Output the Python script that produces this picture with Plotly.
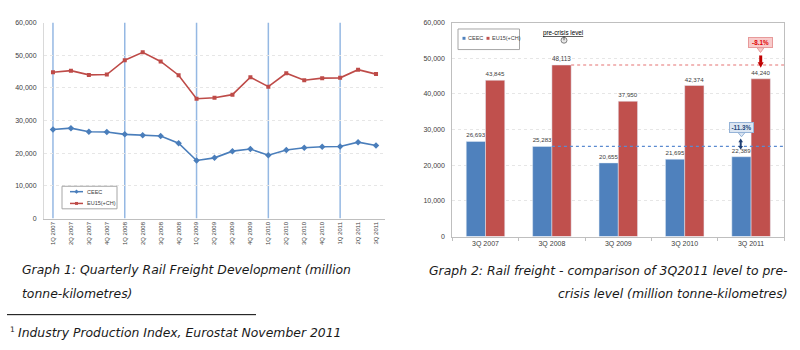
import plotly.graph_objects as go

# ---------------- data ----------------
quarters = ["1Q 2007", "2Q 2007", "3Q 2007", "4Q 2007",
            "1Q 2008", "2Q 2008", "3Q 2008", "4Q 2008",
            "1Q 2009", "2Q 2009", "3Q 2009", "4Q 2009",
            "1Q 2010", "2Q 2010", "3Q 2010", "4Q 2010",
            "1Q 2011", "2Q 2011", "3Q 2011"]
ceec_q = [27300, 27700, 26600, 26500, 25800, 25500, 25283, 23100,
          17800, 18600, 20655, 21300, 19400, 21000, 21695, 22000,
          22100, 23400, 22389]
eu15_q = [44800, 45300, 44000, 44100, 48500, 50900, 48113, 43900,
          36700, 37000, 37950, 43300, 40400, 44500, 42374, 43000,
          43100, 45600, 44240]

years3q = ["3Q 2007", "3Q 2008", "3Q 2009", "3Q 2010", "3Q 2011"]
ceec_3q = [26693, 25283, 20655, 21695, 22389]
eu15_3q = [43845, 48113, 37950, 42374, 44240]
precrisis = "3Q 2008"

series_names = ["CEEC", "EU15(+CH)"]
callout_texts = ["-8.1%", "-11.3%"]

caption1 = ["Graph 1: Quarterly Rail Freight Development (million", "tonne-kilometres)"]
caption2 = ["Graph 2: Rail freight - comparison of 3Q2011 level to pre-",
            "crisis level (million tonne-kilometres)"]
footnote = "Industry Production Index, Eurostat November 2011"

# ---------------- helpers ----------------
W, H = 800, 350
def px(x): return x / W
def py(y): return 1 - y / H

BLUE = "#4F81BD"
RED = "#C0504D"
LBLUE = "#4A7EBB"
LRED = "#BE4B48"
TXT = "#404040"
FONT = "Liberation Sans"

fig = go.Figure()

# ---------------- Graph 1 (lines) ----------------
fig.add_trace(go.Scatter(x=quarters, y=ceec_q, name=series_names[0], mode="lines+markers",
                         line=dict(color=LBLUE, width=1.6),
                         marker=dict(symbol="diamond", size=5, color=LBLUE),
                         xaxis="x", yaxis="y", showlegend=False))
fig.add_trace(go.Scatter(x=quarters, y=eu15_q, name=series_names[1], mode="lines+markers",
                         line=dict(color=LRED, width=1.6),
                         marker=dict(symbol="square", size=4, color=LRED),
                         xaxis="x", yaxis="y", showlegend=False))

# ---------------- Graph 2 (bars) ----------------
fig.add_trace(go.Bar(x=years3q, y=ceec_3q, name=series_names[0], marker_color=BLUE,
                     text=ceec_3q, texttemplate="%{y:,}", textposition="outside",
                     textfont=dict(size=6.5, color=TXT, family=FONT), cliponaxis=False,
                     xaxis="x2", yaxis="y2", showlegend=False))
fig.add_trace(go.Bar(x=years3q, y=eu15_3q, name=series_names[1], marker_color=RED,
                     text=eu15_3q, texttemplate="%{y:,}", textposition="outside",
                     textfont=dict(size=6.5, color=TXT, family=FONT), cliponaxis=False,
                     xaxis="x2", yaxis="y2", showlegend=False))

shapes = []
annotations = []

def ptext(x, y, text, size, color=TXT, family=FONT, xanchor="center", **kw):
    d = dict(x=px(x), y=py(y), xref="paper", yref="paper", text=text, showarrow=False,
             xanchor=xanchor, yanchor="middle", font=dict(size=size, color=color, family=family))
    d.update(kw)
    annotations.append(d)

def ppath(points, fill, line_color=None, lw=0):
    path = "M " + " L ".join(f"{px(a)},{py(b)}" for a, b in points) + " Z"
    shapes.append(dict(type="path", xref="paper", yref="paper", path=path, fillcolor=fill,
                       line=dict(color=line_color or fill, width=lw)))

# vertical year separators at each 1Q
for i, q in enumerate(quarters):
    if q.startswith("1Q"):
        shapes.append(dict(type="line", xref="x", yref="y", x0=i, x1=i, y0=0, y1=60000,
                           line=dict(color="#95B8E3", width=1.5), layer="below"))

# pre-crisis dashed lines
bargap = 0.42
bw = (1 - bargap) / 2
pi = years3q.index(precrisis)
shapes.append(dict(type="line", xref="x2", yref="y2", x0=pi + bw, x1=len(years3q) - 0.5,
                   y0=eu15_3q[pi], y1=eu15_3q[pi], line=dict(color="#E57373", width=1.2, dash="dot")))
shapes.append(dict(type="line", xref="x2", yref="y2", x0=pi, x1=len(years3q) - 0.5,
                   y0=ceec_3q[pi], y1=ceec_3q[pi], line=dict(color="#5B8BD0", width=1.2, dash="dot")))

# ---- manual legend graph 1 ----
shapes.append(dict(type="rect", xref="paper", yref="paper", x0=px(62), x1=px(117), y0=py(209), y1=py(186),
                   line=dict(color="#A6A6A6", width=1), fillcolor="white"))
for k, (yy, col) in enumerate([(191.5, LBLUE), (203.5, LRED)]):
    shapes.append(dict(type="line", xref="paper", yref="paper", x0=px(70), x1=px(83), y0=py(yy), y1=py(yy),
                       line=dict(color=col, width=1.5)))
    if k == 0:
        ppath([(76.5, yy - 2.2), (78.7, yy), (76.5, yy + 2.2), (74.3, yy)], col)
    else:
        ppath([(75, yy - 1.5), (78, yy - 1.5), (78, yy + 1.5), (75, yy + 1.5)], col)
    ptext(84.5, yy, series_names[k], 5.5, xanchor="left")

# ---- manual legend graph 2 ----
shapes.append(dict(type="rect", xref="paper", yref="paper", x0=px(458), x1=px(519.5), y0=py(46.5), y1=py(25.5),
                   line=dict(color="#A6A6A6", width=1), fillcolor="white"))
for k, (xx, col) in enumerate([(462.5, BLUE), (486.5, RED)]):
    shapes.append(dict(type="rect", xref="paper", yref="paper", x0=px(xx), x1=px(xx + 3),
                       y0=py(36.5), y1=py(33.5), fillcolor=col, line=dict(width=0)))
    ptext(xx + 3.5, 35, series_names[k], 5.5, xanchor="left")

# pre-crisis label with small cursor hint
ptext(563, 29.5, "<u>pre-crisis level</u>", 6.3, color="#000000")
shapes.append(dict(type="circle", xref="paper", yref="paper", x0=px(561), x1=px(567), y0=py(40), y1=py(34),
                   line=dict(color="#808080", width=1), fillcolor="#E8E8E8"))
shapes.append(dict(type="line", xref="paper", yref="paper", x0=px(564), x1=px(564), y0=py(33), y1=py(37),
                   line=dict(color="#606060", width=1)))

# ---- callouts ----
# -8.1%
ptext(760.2, 39.7, "<b>" + callout_texts[0] + "</b>", 6.3, color="#E00000",
      bgcolor="#F8CBCB", bordercolor="#E79A9A", borderwidth=1, borderpad=1, width=21)
ppath([(757, 44.6), (764, 44.6), (760.5, 49.5)], "#F8CBCB", "#E79A9A", 1)
shapes.append(dict(type="line", xref="paper", yref="paper", x0=px(760.7), x1=px(760.7), y0=py(52.5), y1=py(60),
                   line=dict(color="#C00000", width=3)))
ppath([(757.7, 59.5), (763.7, 59.5), (760.7, 65)], "#C00000")
# -11.3%
ptext(741.5, 126.3, "<b>" + callout_texts[1] + "</b>", 6.3, color="#1F497D",
      bgcolor="#DCE6F2", bordercolor="#95B3D7", borderwidth=1, borderpad=1, width=21)
ppath([(738, 131.2), (745, 131.2), (741.5, 135.5)], "#DCE6F2", "#95B3D7", 1)
shapes.append(dict(type="line", xref="paper", yref="paper", x0=px(740.7), x1=px(740.7), y0=py(140), y1=py(146),
                   line=dict(color="#1F3F73", width=2)))
ppath([(738.4, 141), (743, 141), (740.7, 137.3)], "#1F3F73")
ppath([(738.4, 145), (743, 145), (740.7, 148.7)], "#1F3F73")

# ---- captions ----
CAPS = 12.4
CAPF = "DejaVu Sans"
ptext(20, 271, "<i>" + caption1[0] + "</i>", CAPS, color="#1A1A1A", family=CAPF, xanchor="left")
ptext(20, 295.5, "<i>" + caption1[1] + "</i>", CAPS, color="#1A1A1A", family=CAPF, xanchor="left")
ptext(790, 271.5, "<i>" + caption2[0] + "</i>", CAPS, color="#1A1A1A", family=CAPF, xanchor="right")
ptext(790, 295.5, "<i>" + caption2[1] + "</i>", CAPS, color="#1A1A1A", family=CAPF, xanchor="right")
shapes.append(dict(type="line", xref="paper", yref="paper", x0=px(7), x1=px(256), y0=py(317), y1=py(317),
                   line=dict(color="#000000", width=1)))
ptext(8, 332, "1", 7.5, color="#1A1A1A", family=CAPF, xanchor="left")
ptext(16, 335, "<i>" + footnote + "</i>", CAPS, color="#1A1A1A", family=CAPF, xanchor="left")

axis_font = dict(size=7, color=TXT, family=FONT)

fig.update_layout(
    width=W, height=H, margin=dict(l=0, r=0, t=0, b=0),
    paper_bgcolor="white", plot_bgcolor="white",
    barmode="group", bargap=bargap, bargroupgap=0,
    shapes=shapes, annotations=annotations,
    xaxis=dict(domain=[px(44), px(385)], type="category", range=[-0.5, len(quarters) - 0.5],
               tickangle=-90, tickfont=dict(size=6, color=TXT, family=FONT),
               showline=True, linecolor="#BFBFBF", linewidth=1, showgrid=False, ticks="",
               anchor="y", fixedrange=True),
    yaxis=dict(domain=[py(219), py(19)], range=[0, 60000], dtick=10000, tickformat=",",
               tickfont=axis_font, showline=True, linecolor="#D9D9D9", linewidth=1,
               showgrid=True, gridcolor="#E6E6E6", griddash="dot", gridwidth=1,
               zeroline=False, ticks="outside", ticklen=5, tickcolor="rgba(0,0,0,0)",
               anchor="x"),
    xaxis2=dict(domain=[px(452.3), px(784.3)], type="category", range=[-0.5, len(years3q) - 0.5],
                tickfont=axis_font, showline=True, linecolor="#BFBFBF", linewidth=1, mirror=True,
                ticks="outside", tickson="boundaries", ticklen=3, tickcolor="#BFBFBF",
                showgrid=False, anchor="y2"),
    yaxis2=dict(domain=[py(237.3), py(19)], range=[0, 60000], dtick=10000, tickformat=",",
                tickfont=axis_font, showline=True, linecolor="#BFBFBF", linewidth=1, mirror=True,
                showgrid=True, gridcolor="#E6E6E6", griddash="dot", gridwidth=1,
                zeroline=False, ticks="outside", ticklen=5, tickcolor="rgba(0,0,0,0)",
                anchor="x2"),
)

fig.write_html("out.html")
